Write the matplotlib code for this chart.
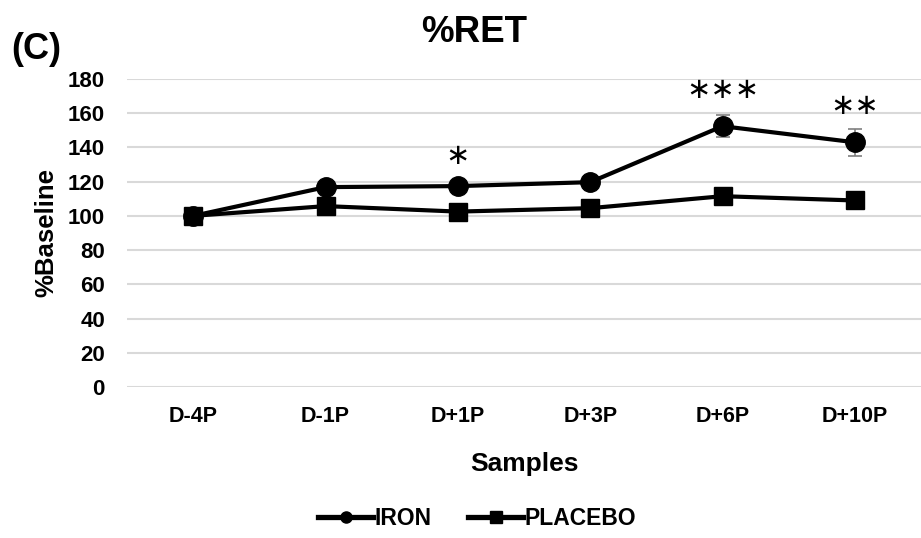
import numpy as np
import matplotlib
matplotlib.use("Agg")
import matplotlib.pyplot as plt
from matplotlib.lines import Line2D

plt.rcParams['font.family'] = ['Liberation Sans', 'DejaVu Sans']

# data
samples = ['D-4P', 'D-1P', 'D+1P', 'D+3P', 'D+6P', 'D+10P']
iron = [100, 116.8, 117.4, 119.7, 152.4, 143.0]
iron_err = [1.5, 2.0, 2.5, 3.5, 6.4, 7.8]
placebo = [100, 105.7, 102.5, 104.5, 111.5, 109.0]
placebo_err = [1.5, 2.5, 2.0, 3.0, 3.0, 3.5]
stars = ['', '', '*', '', '***', '**']
star_pos = [None, None, 135.0, None, 173.5, 164.0]

x = np.arange(len(samples))

fig = plt.figure(figsize=(9.21, 5.38), dpi=100)
ax = fig.add_axes([0.138, 0.2807, 0.862, 0.5725])

ax.errorbar(x, iron, yerr=iron_err, color='black', lw=3, marker='o', ms=14,
            ecolor='#7f7f7f', elinewidth=1.2, capsize=5, capthick=1.2, zorder=3)
ax.errorbar(x, placebo, yerr=placebo_err, color='black', lw=3, marker='s', ms=13,
            ecolor='#7f7f7f', elinewidth=1.2, capsize=5, capthick=1.2, zorder=3)

for xi, s, yi in zip(x, stars, star_pos):
    if s:
        ax.text(xi, yi, '\u2217' * len(s), ha='center', va='center', fontsize=21,
                family=['DejaVu Sans'])

ax.set_xlim(-0.5, len(samples) - 0.5)
ax.set_ylim(0, 180)
ax.set_yticks(range(0, 181, 20))
ax.set_xticks(x)
ax.set_xticklabels(samples)
ax.grid(axis='y', color='#d9d9d9', lw=1.5)
ax.set_axisbelow(True)
for sp in ax.spines.values():
    sp.set_visible(False)
ax.tick_params(length=0, pad=8)
ax.tick_params(axis='x', labelsize=15.5, pad=14)
ax.tick_params(axis='y', labelsize=16, pad=16)
for lab in ax.get_xticklabels() + ax.get_yticklabels():
    lab.set_fontweight('bold')

ax.set_xlabel('Samples', fontsize=19, fontweight='bold', labelpad=18)
ax.set_ylabel('%Baseline', fontsize=18.5, fontweight='bold', labelpad=7)
fig.text(0.515, 0.94, '%RET', ha='center', va='center', fontsize=26.5, fontweight='bold')
fig.text(0.012, 0.908, '(C)', ha='left', va='center', fontsize=26, fontweight='bold')

handles = [Line2D([], [], color='black', lw=3.8, marker='o', ms=8),
           Line2D([], [], color='black', lw=3.8, marker='s', ms=8)]
fig.legend(handles, ['IRON', 'PLACEBO'], loc='center', bbox_to_anchor=(0.518, 0.037),
           ncol=2, frameon=False, handlelength=2.4, handletextpad=0.05, columnspacing=1.6,
           prop={'weight': 'bold', 'size': 16.5})

fig.savefig('out.png', dpi=100)
